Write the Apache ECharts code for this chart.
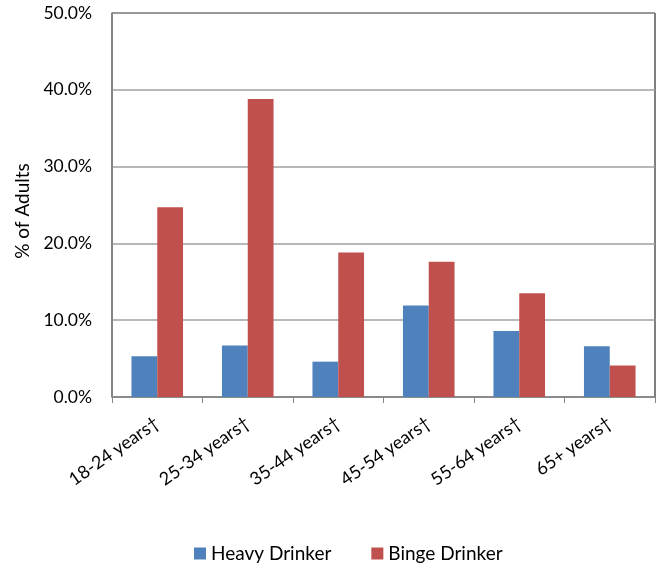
<!DOCTYPE html>
<html>
<head>
<meta charset="utf-8">
<script src="https://cdn.jsdelivr.net/npm/echarts@6/dist/echarts.min.js"></script>
<style>
  html, body { margin: 0; padding: 0; background: #fff; }
  #chart { width: 663px; height: 571px; }
</style>
</head>
<body>
<div id="chart"></div>
<script>
var categories = ['18-24 years\u2020', '25-34 years\u2020', '35-44 years\u2020', '45-54 years\u2020', '55-64 years\u2020', '65+ years\u2020'];
var heavyDrinker = [5.3, 6.7, 4.6, 11.9, 8.6, 6.6];
var bingeDrinker = [24.7, 38.8, 18.8, 17.6, 13.5, 4.1];
var seriesNames = ['Heavy Drinker', 'Binge Drinker'];

var chart = echarts.init(document.getElementById('chart'));
var font = 'Lato, "Open Sans", sans-serif';

chart.setOption({
    animation: false,
    textStyle: { fontFamily: font },
    grid: {
        left: 112,
        right: 8,
        top: 13,
        bottom: 174,
        show: true,
        borderColor: '#000',
        borderWidth: 1
    },
    legend: {
        bottom: 3,
        left: 189,
        itemWidth: 12,
        itemHeight: 12,
        itemGap: 40,
        icon: 'rect',
        textStyle: { color: '#000', fontSize: 19, fontFamily: font },
        data: seriesNames
    },
    xAxis: {
        type: 'category',
        data: categories,
        axisLine: { lineStyle: { color: '#868686', width: 1.5 } },
        axisTick: { show: true, alignWithLabel: false, length: 6, lineStyle: { color: '#868686' } },
        axisLabel: {
            color: '#000',
            fontSize: 18,
            fontFamily: font,
            rotate: 35,
            margin: 24,
            interval: 0
        }
    },
    yAxis: {
        type: 'value',
        min: 0,
        max: 50,
        interval: 10,
        name: '% of Adults',
        nameLocation: 'middle',
        nameGap: 80,
        nameTextStyle: { color: '#000', fontSize: 19, fontFamily: font, padding: [0, 12, 0, 0] },
        axisLine: { show: true, lineStyle: { color: '#868686', width: 1.5 } },
        axisTick: { show: false },
        splitLine: { lineStyle: { color: '#a0a0a0', width: 1.5 } },
        axisLabel: {
            color: '#000',
            fontSize: 17.5,
            fontFamily: font,
            margin: 20,
            formatter: function (v) { return v.toFixed(1) + '%'; }
        }
    },
    series: [
        {
            name: seriesNames[0],
            type: 'bar',
            data: heavyDrinker,
            barGap: '0%',
            barCategoryGap: '43%',
            itemStyle: { color: '#4F81BD' }
        },
        {
            name: seriesNames[1],
            type: 'bar',
            data: bingeDrinker,
            barGap: '0%',
            barCategoryGap: '43%',
            itemStyle: { color: '#C0504D' }
        }
    ]
});
</script>
</body>
</html>
